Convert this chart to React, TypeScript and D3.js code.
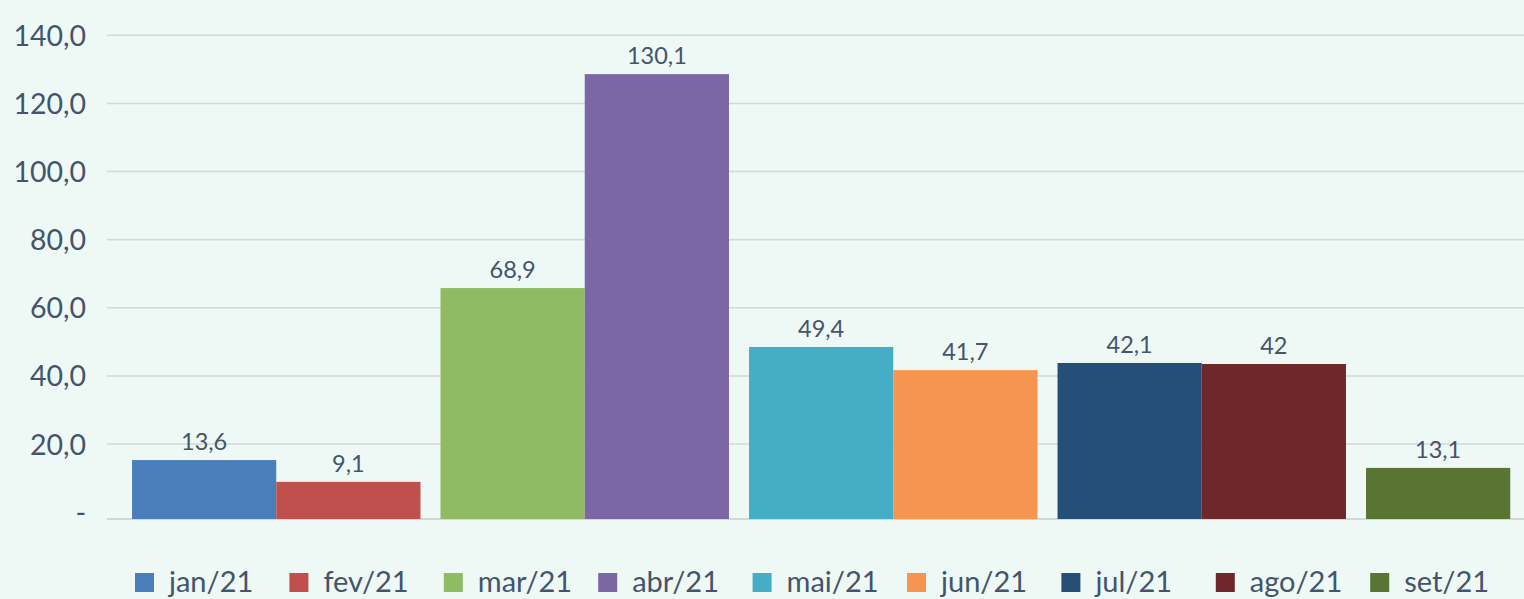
import * as d3 from "d3"

const months = ["jan/21", "fev/21", "mar/21", "abr/21", "mai/21", "jun/21", "jul/21", "ago/21", "set/21"]
// bar heights as drawn in the picture
const barValues = [15.3, 8.9, 65.8, 128.6, 48.5, 41.7, 43.8, 43.5, 13.0]
// data labels as printed
const valueLabels = ["13,6", "9,1", "68,9", "130,1", "49,4", "41,7", "42,1", "42", "13,1"]
const colors = ["#4a7ebb", "#c0504d", "#90bb64", "#7b67a3", "#45adc6", "#f59550", "#264f77", "#6e272a", "#5a7434"]
const groups = [
  ["jan/21", "fev/21"],
  ["mar/21", "abr/21"],
  ["mai/21", "jun/21"],
  ["jul/21", "ago/21"],
  ["set/21"]
]
const yTicks = [0, 20, 40, 60, 80, 100, 120, 140]
const yTickLabels = ["-", "20,0", "40,0", "60,0", "80,0", "100,0", "120,0", "140,0"]

const width = 1524
const height = 599
const textColor = "#44546a"
const font = "Lato, 'Open Sans', sans-serif"

const App = () => {
  const y = d3.scaleLinear().domain([-2, 140]).range([519, 35.3])

  const gx = d3.scaleBand<number>()
    .domain(groups.map((_, i) => i))
    .range([122, 1664.5])
    .paddingInner(0.065)
    .paddingOuter(0.0325)

  const inner = d3.scaleBand<number>()
    .domain([0, 1])
    .range([0, gx.bandwidth()])

  const legendX = d3.scaleBand<string>()
    .domain(months)
    .range([135, 1524.6])

  const bars = groups.flatMap((g, gi) =>
    g.map((m, j) => {
      const i = months.indexOf(m)
      return { m, i, x: (gx(gi) ?? 0) + (inner(j) ?? 0) }
    })
  )

  return (
    <>
      <style>{`body{margin:0;background:#eef8f5}`}</style>
      <svg width={width} height={height} style={{ display: "block", background: "#eef8f5" }} fontFamily={font}>
        {yTicks.filter(t => t > 0).map(t => (
          <line key={t} x1={107} x2={width} y1={y(t)} y2={y(t)} stroke="#d4d7d6" strokeWidth={1.5} />
        ))}
        <line x1={107} x2={width} y1={y.range()[0]} y2={y.range()[0]} stroke="#d4d7d6" strokeWidth={2} />

        {yTicks.map((t, i) => (
          <text key={t} x={86} y={y(t) + 10.5} textAnchor="end" fontSize={28.5} fill={textColor}>
            {yTickLabels[i]}
          </text>
        ))}

        {bars.map(b => (
          <g key={b.m}>
            <rect
              x={b.x}
              y={y(barValues[b.i])}
              width={inner.bandwidth()}
              height={y.range()[0] - y(barValues[b.i])}
              fill={colors[b.i]}
            />
            <text
              x={b.x + inner.bandwidth() / 2}
              y={y(barValues[b.i]) - 10}
              textAnchor="middle"
              fontSize={23.5}
              fill={textColor}
            >
              {valueLabels[b.i]}
            </text>
          </g>
        ))}

        {months.map((m, i) => (
          <g key={m} transform={`translate(${legendX(m)},0)`}>
            <rect x={0} y={573} width={19} height={19} fill={colors[i]} />
            <text x={34} y={592} fontSize={29} fill={textColor}>{m}</text>
          </g>
        ))}
      </svg>
    </>
  )
}

export default App
